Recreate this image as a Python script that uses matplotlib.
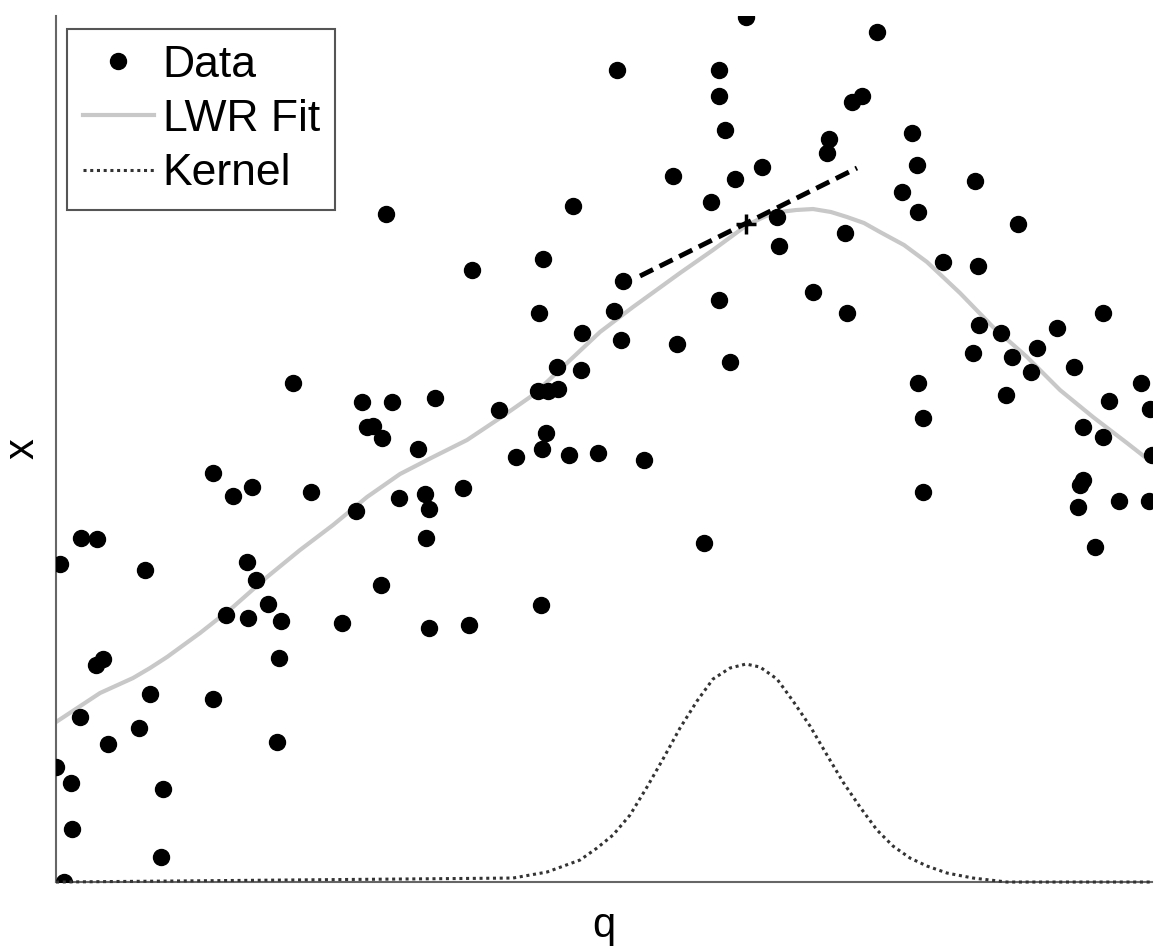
import matplotlib.pyplot as plt

plt.rcParams['font.family'] = ['Liberation Sans', 'DejaVu Sans']

# data points
q_data = [0.04, 0.00, 0.15, 0.16, 0.08, 0.24, 0.25, 0.41, 0.40, 0.47,
          0.52, 0.83, 0.89, 0.94, 1.07, 1.05, 1.57, 1.57, 1.70, 1.77,
          1.96, 1.91, 1.92, 2.00, 2.12, 2.21, 2.23, 2.25, 2.37, 2.55,
          2.86, 3.00, 3.06, 3.11, 3.17, 3.26, 3.25, 3.30, 3.36, 3.43,
          3.62, 3.69, 3.73, 3.70, 3.73, 3.79, 4.07, 4.13, 4.16, 4.43,
          4.60, 4.82, 4.83, 4.87, 4.90, 4.86, 4.85, 4.92, 5.02, 5.01,
          5.13, 5.17, 5.25, 5.26, 5.42, 5.58, 5.65, 5.67, 5.61, 5.88,
          6.17, 6.21, 6.48, 6.55, 6.63, 6.63, 6.63, 6.69, 6.74, 6.79,
          6.90, 7.06, 7.21, 7.23, 7.57, 7.71, 7.73, 7.89, 7.91, 7.96,
          8.06, 8.21, 8.46, 8.56, 8.61, 8.62, 8.62, 8.67, 8.67, 8.87,
          9.19, 9.22, 9.17, 9.23, 9.45, 9.50, 9.56, 9.62, 9.75, 9.81,
          10.01, 10.18, 10.27, 10.27, 10.24, 10.22, 10.39, 10.47, 10.47, 10.53,
          10.63, 10.85, 10.94, 10.96, 10.93]
x_data = [3.18, 1.15, 0.99, 0.53, 0.00, 1.65, 3.44, 3.43, 2.17, 2.23,
          1.38, 1.54, 3.12, 1.88, 0.93, 0.25, 4.09, 1.83, 2.67, 3.86,
          3.95, 3.20, 2.64, 3.02, 2.78, 1.40, 2.24, 2.61, 4.99, 3.90,
          2.59, 3.71, 4.80, 4.55, 4.56, 4.44, 2.97, 6.68, 4.80, 3.84,
          4.33, 3.88, 3.73, 3.44, 2.54, 4.84, 3.94, 2.57, 6.12, 4.72,
          4.25, 4.91, 5.69, 6.23, 4.49, 4.33, 2.77, 4.91, 4.93, 5.15,
          4.27, 6.76, 5.12, 5.49, 4.29, 5.71, 5.42, 6.01, 8.12, 4.22,
          7.06, 5.38, 3.39, 6.80, 5.82, 8.12, 7.86, 7.52, 5.20, 7.03,
          8.65, 7.15, 6.65, 6.36, 5.90, 7.29, 7.43, 6.49, 5.69, 7.80,
          7.86, 8.50, 6.90, 7.49, 7.17, 6.70, 4.99, 4.64, 3.90, 6.20,
          7.01, 6.16, 5.29, 5.57, 5.49, 4.87, 5.25, 6.58, 5.10, 5.34,
          5.54, 5.15, 4.55, 4.02, 3.97, 3.75, 3.35, 5.69, 4.45, 4.81,
          3.81, 4.99, 4.73, 4.27, 3.81]

# LWR fit curve
q_fit = [0.00, 0.44, 0.77, 0.94, 1.11, 1.44, 1.77, 2.11, 2.44, 2.77,
         3.11, 3.44, 3.77, 4.11, 4.44, 4.77, 5.11, 5.44, 5.77, 6.24,
         6.57, 6.91, 7.10, 7.24, 7.40, 7.57, 7.75, 7.91, 8.08, 8.24,
         8.48, 8.71, 9.04, 9.37, 9.71, 10.04, 10.37, 10.71, 10.94]
x_fit = [1.60, 1.89, 2.04, 2.14, 2.25, 2.49, 2.75, 3.05, 3.32, 3.57,
         3.85, 4.08, 4.25, 4.42, 4.64, 4.87, 5.19, 5.50, 5.75, 6.09,
         6.32, 6.57, 6.66, 6.70, 6.72, 6.73, 6.70, 6.65, 6.59, 6.50,
         6.37, 6.20, 5.89, 5.55, 5.25, 4.92, 4.65, 4.39, 4.21]

# kernel weights (drawn on the same scale)
q_kern = [0.00, 4.57, 4.91, 5.24, 5.41, 5.57, 5.74, 5.91, 6.07, 6.24,
          6.41, 6.57, 6.74, 6.90, 7.04, 7.21, 7.37, 7.54, 7.71, 7.87,
          8.04, 8.21, 8.37, 8.54, 8.71, 8.91, 9.17, 9.51, 10.96]
x_kern = [0.00, 0.04, 0.10, 0.22, 0.34, 0.47, 0.67, 0.95, 1.23, 1.54,
          1.81, 2.03, 2.14, 2.18, 2.15, 2.03, 1.81, 1.56, 1.27, 1.00,
          0.75, 0.52, 0.36, 0.24, 0.16, 0.09, 0.04, 0.00, 0.00]

# local linear fit at the query point
q_query = 6.90
x_query = 6.58
q_line = [5.84, 8.01]
x_line = [6.06, 7.14]

fig = plt.figure(figsize=(11.6, 9.47), dpi=100)
ax = fig.add_axes([0.0483, 0.0686, 0.9448, 0.9145])

ax.plot(q_data, x_data, 'o', color='black', markersize=11.5, label='Data', zorder=3)
ax.plot(q_fit, x_fit, color='#c8c8c8', linewidth=3, label='LWR Fit', zorder=2)
ax.plot(q_kern, x_kern, color='#333333', linewidth=2.2, linestyle=(0, (1, 1.2)),
        label='Kernel', zorder=4, clip_on=False)
ax.plot(q_line, x_line, '--', color='black', linewidth=3.5, dashes=(3, 1.5), zorder=5)
ax.plot(q_query, x_query, '+', color='black', markersize=14, markeredgewidth=2.5, zorder=6)

ax.set_xlim(0, 10.96)
ax.set_ylim(0, 8.66)
ax.set_xticks([])
ax.set_yticks([])
for s in ['top', 'right']:
    ax.spines[s].set_visible(False)
for s in ['left', 'bottom']:
    ax.spines[s].set_color('#666666')
    ax.spines[s].set_linewidth(1.5)

ax.set_xlabel('q', fontsize=30, labelpad=17)
ax.set_ylabel('x', fontsize=30, labelpad=10)

leg = ax.legend(loc='upper left', bbox_to_anchor=(0.01, 0.985), borderaxespad=0,
                fontsize=32, fancybox=False, handlelength=1.6, handletextpad=0.2,
                labelspacing=0.3, borderpad=0.35, framealpha=1)
leg.get_frame().set_edgecolor('#555555')
leg.get_frame().set_linewidth(1.5)

plt.savefig('out.png', dpi=100)
